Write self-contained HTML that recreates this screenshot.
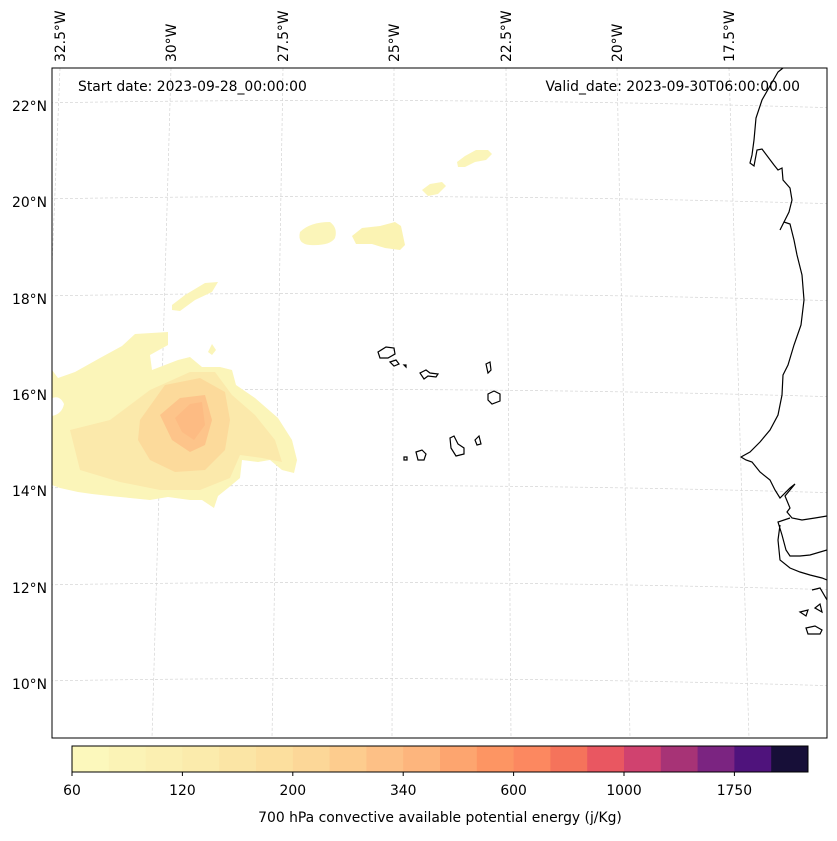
<!DOCTYPE html>
<html><head><meta charset="utf-8">
<style>
body{margin:0;background:#fff;font-family:"Liberation Sans","DejaVu Sans",sans-serif;}
svg text{font-family:"DejaVu Sans","Liberation Sans",sans-serif;}
</style></head>
<body>
<svg id="chart" width="837" height="836" viewBox="0 0 837 836" xmlns="http://www.w3.org/2000/svg">
<rect width="837" height="836" fill="#fff"/>
<defs><clipPath id="mapclip"><rect x="52" y="68" width="775" height="670"/></clipPath></defs>
<g id="grid" clip-path="url(#mapclip)"></g>
<g clip-path="url(#mapclip)">
  <path fill="#fbf5b9" d="M52,370 L58,378 L75,372 L100,358 L122,346 L135,334 L168,332 L168,345 L150,355 L152,370 L178,360 L190,357 L202,367 L220,367 L232,370 L236,385 L255,398 L278,418 L292,440 L297,460 L294,473 L282,470 L270,460 L258,462 L242,460 L240,478 L228,488 L218,496 L214,508 L202,500 L190,500 L168,497 L150,500 L130,498 L110,496 L92,494 L78,492 L60,488 L52,485 Z"/>
  <path fill="#fff" d="M52,398 Q60,395 64,404 Q62,414 52,416 Z"/>
  <path fill="#fbe9ab" d="M70,430 L110,420 L150,390 L190,372 L215,372 L232,395 L255,415 L275,440 L282,462 L262,458 L240,455 L230,478 L200,490 L160,490 L120,482 L80,470 Z"/>
  <path fill="#fcda9b" d="M140,420 L165,385 L200,378 L225,392 L230,420 L225,450 L205,470 L175,472 L150,460 L138,440 Z"/>
  <path fill="#fdc48a" d="M160,415 L180,398 L205,395 L212,420 L205,445 L190,452 L172,440 Z"/>
  <path fill="#fdbb83" d="M175,418 L190,404 L202,402 L205,425 L194,440 L182,432 Z"/>
  <path fill="#fbf5b9" d="M172,305 L185,295 L205,283 L218,282 L212,292 L195,300 L180,311 L172,310 Z"/>
  <path fill="#fbf5b9" d="M208,352 L212,344 L216,350 L212,355 Z"/>
  <path fill="#fbf5b9" d="M300,232 Q310,222 330,222 Q338,228 335,238 Q330,246 310,245 Q297,244 300,232 Z"/>
  <path fill="#fbf3b3" d="M352,236 L362,228 L380,226 L395,222 L401,226 L405,245 L400,250 L385,248 L372,244 L356,244 Z"/>
  <path fill="#fbf5b9" d="M422,190 L430,184 L442,182 L446,186 L438,194 L428,196 Z"/>
  <path fill="#fbf5b9" d="M457,162 L465,156 L476,150 L488,150 L492,154 L486,160 L475,162 L465,167 L458,167 Z"/>
</g>
<g clip-path="url(#mapclip)" fill="none" stroke="#000" stroke-width="1.2">
  <path d="M783,68 L778,72 L762,100 L756,118 L754,140 L752,155 L750,163 L754,166 L757,150 L762,149 L774,165 L778,170 L782,168 L783,180 L790,188 L792,200 L789,212 L784,222 L780,230 L784,222 L790,224 L794,240 L797,255 L802,275 L804,300 L801,325 L794,345 L788,365 L783,375 L782,395 L778,415 L770,430 L760,442 L750,452 L741,457 L746,460 L752,462 L760,472 L770,480 L775,490 L780,498 L790,488 L795,484 L785,496 L790,508 L787,512 L792,518 L802,520 L815,518 L827,516 M827,550 L810,555 L800,556 L790,556 L786,550 L782,535 L778,522 L790,518 M780,525 L778,540 L780,560 L790,568 L800,572 L810,575 L822,578 L827,580 M812,590 L820,588 L827,600 M800,612 L808,610 L806,616 Z M815,608 L820,604 L822,612 Z M806,628 L815,626 L822,630 L820,634 L808,634 Z"/>
  <path d="M378,352 L386,347 L394,348 L395,354 L388,358 L380,358 Z"/>
  <path d="M390,362 L396,360 L399,364 L394,366 Z"/>
  <path d="M404,365 L406,365 L406,367 Z"/>
  <path d="M420,373 L426,370 L430,373 L438,374 L436,377 L428,376 L424,379 Z"/>
  <path d="M486,364 L490,362 L491,370 L488,373 Z"/>
  <path d="M488,394 L494,391 L500,394 L500,401 L492,404 L488,400 Z"/>
  <path d="M475,440 L479,436 L481,444 L477,445 Z"/>
  <path d="M450,438 L454,436 L458,444 L464,448 L464,454 L456,456 L451,448 Z"/>
  <path d="M416,452 L422,450 L426,454 L424,460 L418,460 Z"/>
  <path d="M404,457 L407,457 L407,460 L404,460 Z"/>
</g>
<rect x="52" y="68" width="775" height="670" fill="none" stroke="#000" stroke-width="1"/>
<g id="labels" font-size="13.9" fill="#000"></g>
<text x="78" y="91" font-size="13.9">Start date: 2023-09-28_00:00:00</text>
<text x="800" y="91" font-size="13.9" text-anchor="end">Valid_date: 2023-09-30T06:00:00.00</text>
<g id="cbar"></g>
<text x="440" y="822" font-size="13.9" text-anchor="middle">700 hPa convective available potential energy (j/Kg)</text>
</svg>
<script>
const latLabels=["22°N","20°N","18°N","16°N","14°N","12°N","10°N"];
const latY=[106,202,299,395,491,588,684];
const lonLabels=["32.5°W","30°W","27.5°W","25°W","22.5°W","20°W","17.5°W"];
const lonTop=[60,171,283,394,506,617,729];
const lonBot=[33,152,272,392,511,630,749];
const cbColors=["#fcf8bc","#fbf3b6","#fbefb1","#fbebac","#fbe5a5","#fcdf9e","#fcd798","#fdcc8e","#fdc086","#fdb57d","#fda56f","#fd9563","#fc8860","#f5735b","#e95761","#d0426f","#a73376","#7b2481","#4f137c","#170f38"];
const cbTicks=["60","120","200","340","600","1000","1750"];
const ns="http://www.w3.org/2000/svg";
function mk(t,a,p){const e=document.createElementNS(ns,t);for(const k in a)e.setAttribute(k,a[k]);p.appendChild(e);return e;}
const grid=document.getElementById('grid'),labels=document.getElementById('labels'),cbar=document.getElementById('cbar');
latY.forEach((y,i)=>{
  const p=mk('path',{d:`M40,${y-3} Q440,${y-10} 840,${y+2}`,fill:'none',stroke:'#d4d4d4','stroke-width':0.7,'stroke-dasharray':'3,2'},grid);
  
  
  const t=mk('text',{x:47,y:y+5,'text-anchor':'end'},labels);t.textContent=latLabels[i];
  
  
});
lonTop.forEach((x,i)=>{
  const p=mk('path',{d:`M${x},68 L${lonBot[i]},738`,fill:'none',stroke:'#d4d4d4','stroke-width':0.7,'stroke-dasharray':'3,2'},grid);
  
  
  const tx=x+5;
  const t=mk('text',{x:tx,y:62,transform:`rotate(-90 ${tx} 62)`},labels);t.textContent=lonLabels[i];
  
  
});
const cx0=72,cx1=808,cy=746,ch=26,bw=(cx1-cx0)/cbColors.length;
cbColors.forEach((c,i)=>{
  const r=mk('rect',{x:cx0+i*bw,y:cy,width:bw+0.5,height:ch,fill:c},cbar);
  
  
});
mk('rect',{x:cx0,y:cy,width:cx1-cx0,height:ch,fill:'none',stroke:'#000','stroke-width':1},cbar);
cbTicks.forEach((s,i)=>{
  const x=cx0+i*3*bw;
  mk('line',{x1:x,x2:x,y1:cy+ch,y2:cy+ch+4,stroke:'#000'},cbar);
  const t=mk('text',{x:x,y:795,'font-size':13.9,'text-anchor':'middle'},cbar);t.textContent=s;
  
  
});
</script>
</body></html>
